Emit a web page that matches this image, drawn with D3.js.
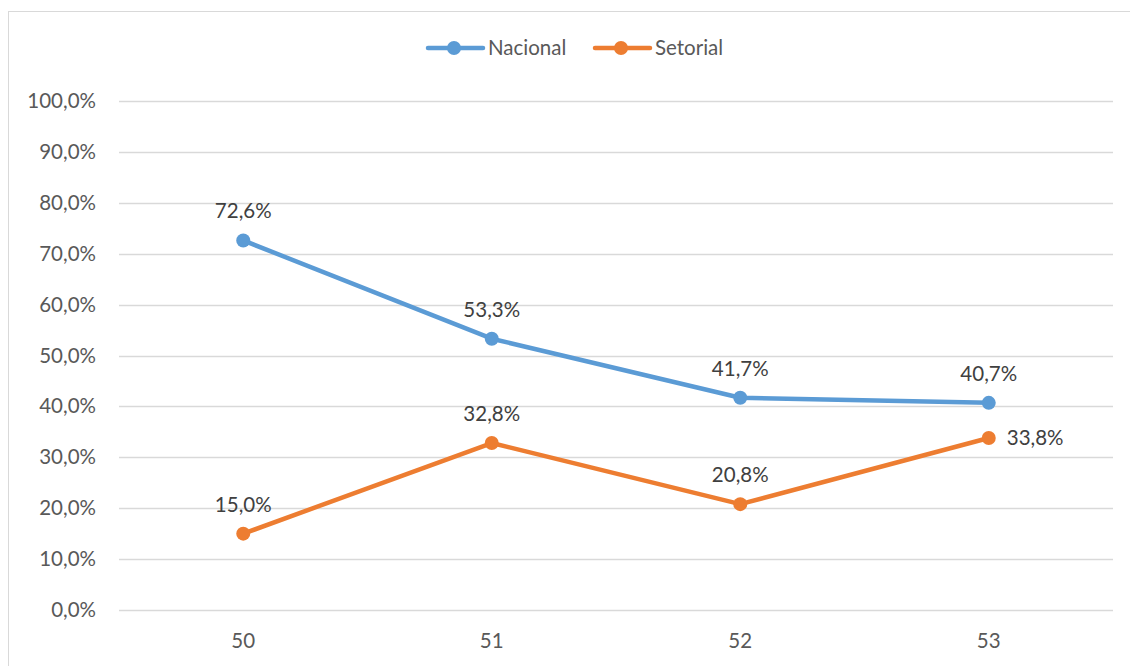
<!DOCTYPE html>
<html>
<head>
<meta charset="utf-8">
<script src="https://cdn.jsdelivr.net/npm/d3@7"></script>
<style>
  html, body { margin: 0; padding: 0; background: #fff; }
  svg { display: block; font-family: Lato, "Open Sans", sans-serif; }
</style>
</head>
<body>
<svg id="chart" width="1130" height="666"></svg>
<script>
// Categories and series
const categories = ["50", "51", "52", "53"];
const nacional = [72.6, 53.3, 41.7, 40.7];
const setorial = [15.0, 32.8, 20.8, 33.8];
const yTicks = [0, 10, 20, 30, 40, 50, 60, 70, 80, 90, 100];
const seriesNames = ["Nacional", "Setorial"];

const colors = { Nacional: "#5B9BD5", Setorial: "#ED7D31" };
const fmt = v => v.toFixed(1).replace(".", ",") + "%";
const FS = 20.5;

const svg = d3.select("#chart");
const W = 1130, H = 666;

// outer chart frame
svg.append("rect")
  .attr("x", 8.5).attr("y", 11.5)
  .attr("width", W + 10).attr("height", H + 10)
  .attr("fill", "none").attr("stroke", "#d9d9d9").attr("stroke-width", 1);

const plot = { left: 119, right: 1113, top: 101, bottom: 610 };

const x = d3.scaleBand().domain(categories).range([plot.left, plot.right]);
const y = d3.scaleLinear().domain([0, 100]).range([plot.bottom, plot.top]);

// gridlines
svg.append("g").selectAll("line").data(yTicks).join("line")
  .attr("x1", plot.left).attr("x2", plot.right)
  .attr("y1", d => Math.round(y(d)) + 0.5).attr("y2", d => Math.round(y(d)) + 0.5)
  .attr("stroke", "#d9d9d9").attr("stroke-width", 1.5);

// y axis labels
const yAxis = d3.axisLeft(y).tickValues(yTicks).tickFormat(fmt).tickSize(0).tickPadding(0);
const yg = svg.append("g").attr("transform", `translate(96,0)`).call(yAxis);
yg.select(".domain").remove();
yg.selectAll("text").attr("font-size", FS).attr("fill", "#595959")
  .attr("font-family", "Lato, 'Open Sans', sans-serif");

// x axis labels
const xAxis = d3.axisBottom(x).tickSize(0).tickPadding(0);
const xg = svg.append("g").attr("transform", `translate(0,${plot.bottom + 23})`).call(xAxis);
xg.select(".domain").remove();
xg.selectAll("text").attr("font-size", FS).attr("fill", "#595959")
  .attr("font-family", "Lato, 'Open Sans', sans-serif");

const cx = c => x(c) + x.bandwidth() / 2;
const line = d3.line().x((d, i) => cx(categories[i])).y(d => y(d));

const data = { Nacional: nacional, Setorial: setorial };

seriesNames.forEach(name => {
  const vals = data[name];
  const g = svg.append("g");
  g.append("path").datum(vals)
    .attr("d", line).attr("fill", "none")
    .attr("stroke", colors[name]).attr("stroke-width", 4.5)
    .attr("stroke-linejoin", "round").attr("stroke-linecap", "round");
  g.selectAll("circle").data(vals).join("circle")
    .attr("cx", (d, i) => cx(categories[i])).attr("cy", d => y(d))
    .attr("r", 7).attr("fill", colors[name]);
});

// value labels
const labelText = (vals, pos) => vals.forEach((v, i) => {
  const p = pos[i];
  svg.append("text")
    .attr("x", cx(categories[i]) + (p === "right" ? 18 : 0))
    .attr("y", y(v) + (p === "right" ? 7 : -22))
    .attr("text-anchor", p === "right" ? "start" : "middle")
    .attr("font-size", FS).attr("fill", "#404040")
    .text(fmt(v));
});
labelText(nacional, ["above", "above", "above", "above"]);
labelText(setorial, ["above", "above", "above", "right"]);

// legend
const legend = [
  { name: "Nacional", x0: 428 },
  { name: "Setorial", x0: 595 }
];
const ly = 48;
legend.forEach(l => {
  svg.append("line")
    .attr("x1", l.x0).attr("x2", l.x0 + 55).attr("y1", ly).attr("y2", ly)
    .attr("stroke", colors[l.name]).attr("stroke-width", 4.5).attr("stroke-linecap", "round");
  svg.append("circle").attr("cx", l.x0 + 26).attr("cy", ly).attr("r", 7).attr("fill", colors[l.name]);
  svg.append("text").attr("x", l.x0 + 60).attr("y", ly + 7)
    .attr("font-size", FS).attr("fill", "#595959").text(l.name);
});
</script>
</body>
</html>
